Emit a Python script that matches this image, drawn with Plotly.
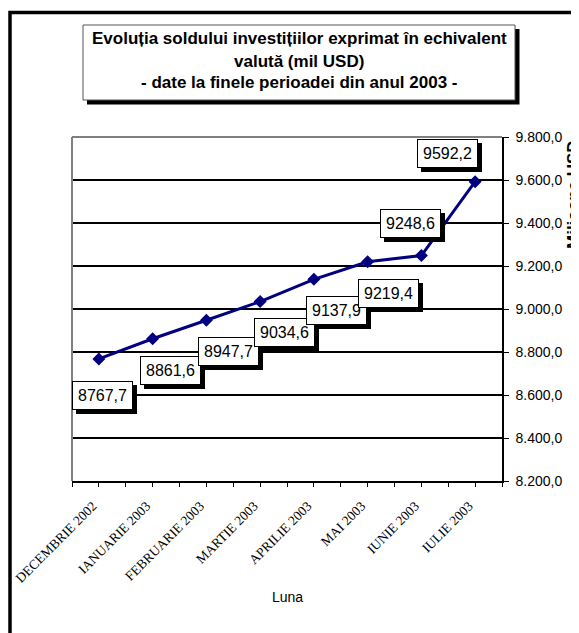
import plotly.graph_objects as go

# ---- data ----
months = ["DECEMBRIE 2002", "IANUARIE 2003", "FEBRUARIE 2003", "MARTIE 2003",
          "APRILIE 2003", "MAI 2003", "IUNIE 2003", "IULIE 2003"]
values = [8767.7, 8861.6, 8947.7, 9034.6, 9137.9, 9219.4, 9248.6, 9592.2]
y_ticks = [8200, 8400, 8600, 8800, 9000, 9200, 9400, 9600, 9800]

title_lines = ["Evoluția soldului investițiilor exprimat în echivalent",
               "valută (mil USD)",
               "- date la finele perioadei din anul 2003 -"]
x_title = "Luna"
y_title = "Milioane USD"

# label placement (pixel offsets from each point: right, up)
label_offsets = [(4, -37), (18, -32), (22, -31), (24, -31),
                 (23, -31), (21, -32), (-11, 32), (-28, 28)]

# page body has an 8px margin; layout measured in screen pixels
OFF = 8
SW, SH = 579, 633                 # screen size
PL, PR, PT, PB = 72, 502, 137, 481  # plot area in screen pixels
W, H = SW - OFF, SH - OFF
L, R, T, B = PL - OFF, W - (PR - OFF), PT - OFF, H - (PB - OFF)
PW, PH = PR - PL, PB - PT


def px(xs_):
    return (xs_ - PL) / PW


def py(ys_):
    return (PB - ys_) / PH


xs = list(range(len(months)))

fig = go.Figure()
fig.add_trace(go.Scatter(
    x=xs, y=values, mode="lines+markers",
    line=dict(color="#000080", width=3),
    marker=dict(symbol="diamond", size=10, color="#000080"),
    hoverinfo="skip", showlegend=False,
))

# tick positions: category centres plus boundaries
tickvals, ticktext = [], []
for i, m in enumerate(months):
    tickvals += [i - 0.5, i]
    ticktext += ["", m]
tickvals.append(len(months) - 0.5)
ticktext.append("")

label_font = dict(family="Liberation Sans, Arial", size=16, color="black")
annotations = []
labels = [f"{v:.1f}".replace(".", ",") for v in values]
for i, (v, (dx, dy)) in enumerate(zip(values, label_offsets)):
    annotations.append(dict(
        x=xs[i], y=v, xref="x", yref="y", text=labels[i], showarrow=False,
        xshift=dx + 4, yshift=dy - 4, font=label_font,
        bgcolor="black", bordercolor="black", borderwidth=1, borderpad=5,
    ))
for i, (v, (dx, dy)) in enumerate(zip(values, label_offsets)):
    annotations.append(dict(
        x=xs[i], y=v, xref="x", yref="y", text=labels[i], showarrow=False,
        xshift=dx, yshift=dy, font=label_font,
        bgcolor="white", bordercolor="black", borderwidth=1, borderpad=5,
    ))

for line, yc in zip(title_lines, [39, 61, 83]):
    annotations.append(dict(
        x=px(299), y=py(yc), xref="paper", yref="paper", text=f"<b>{line}</b>",
        showarrow=False, xanchor="center", yanchor="middle",
        font=dict(family="Liberation Sans, Arial", size=17, color="black"),
    ))

annotations.append(dict(
    x=px(287), y=py(597), xref="paper", yref="paper", text=x_title, showarrow=False,
    xanchor="center", yanchor="middle",
    font=dict(family="Liberation Sans, Arial", size=14, color="black"),
))
annotations.append(dict(
    x=px(573), y=py(195), xref="paper", yref="paper", text=f"<b>{y_title}</b>",
    showarrow=False, textangle=-90, xanchor="center", yanchor="middle",
    font=dict(family="Liberation Sans, Arial", size=17, color="black"),
))

shapes = [
    # outer chart frame
    dict(type="rect", xref="paper", yref="paper",
         x0=px(10), x1=px(640), y0=py(700), y1=py(12.5),
         line=dict(color="black", width=3.5), fillcolor="rgba(0,0,0,0)", layer="above"),
    # title shadow
    dict(type="rect", xref="paper", yref="paper",
         x0=px(87), x1=px(519.5), y0=py(104.5), y1=py(29),
         line=dict(color="black", width=0), fillcolor="black", layer="above"),
    # title box
    dict(type="rect", xref="paper", yref="paper",
         x0=px(83), x1=px(515), y0=py(100), y1=py(25),
         line=dict(color="#555555", width=1), fillcolor="white", layer="above"),
    # plot-area grey border (left and top)
    dict(type="line", xref="paper", yref="paper", x0=0, x1=0, y0=0, y1=1,
         line=dict(color="#808080", width=2), layer="above"),
    dict(type="line", xref="paper", yref="paper", x0=0, x1=1, y0=1, y1=1,
         line=dict(color="#808080", width=2), layer="above"),
]

fig.update_layout(
    width=W, height=H,
    margin=dict(l=L, r=R, t=T, b=B, pad=0),
    paper_bgcolor="white", plot_bgcolor="white",
    separators=",.",
    showlegend=False,
    annotations=annotations,
    shapes=shapes,
    xaxis=dict(
        range=[-0.5, len(months) - 0.5],
        tickmode="array", tickvals=tickvals, ticktext=ticktext,
        tickangle=-45, ticks="outside", ticklen=4, tickcolor="black", tickwidth=1,
        showline=True, linecolor="black", linewidth=1.5,
        showgrid=False, zeroline=False, automargin=False,
        tickfont=dict(family="Liberation Serif, Times New Roman", size=13.5, color="black"),
        ticklabelshift=-6, ticklabelstandoff=6,
    ),
    yaxis=dict(
        side="right", range=[8200, 9800],
        tickmode="array", tickvals=y_ticks, tickformat=",.1f",
        ticks="outside", ticklen=5, tickcolor="black", tickwidth=1,
        showline=True, linecolor="black", linewidth=1.5,
        showgrid=True, gridcolor="black", gridwidth=1.5,
        zeroline=False, automargin=False,
        tickfont=dict(family="Liberation Sans, Arial", size=14, color="black"),
        ticklabelstandoff=4,
    ),
)

fig.write_html("out.html")
